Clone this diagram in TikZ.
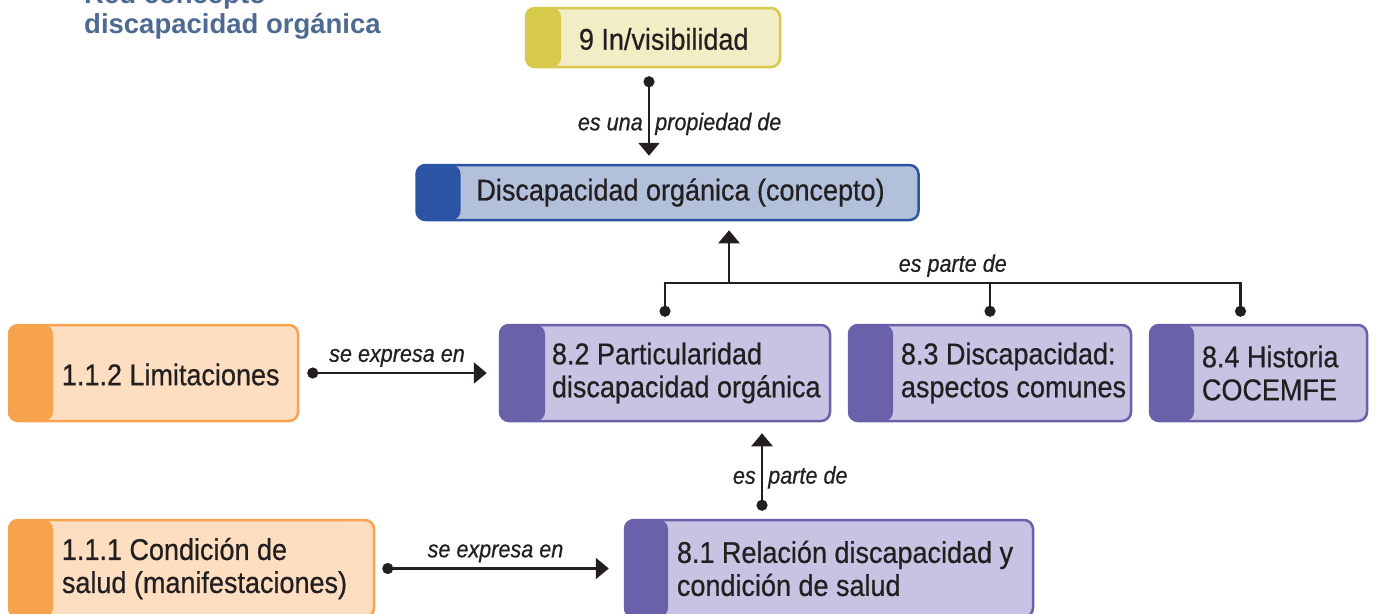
\documentclass[tikz,border=0pt]{standalone}
\usepackage{fontspec}
\setmainfont{Liberation Sans}[FakeStretch=0.9, FakeBold=0.6]
\newfontfamily\titlefont{Liberation Sans}
\usepackage{tikz}
\usetikzlibrary{arrows.meta}
\definecolor{titleblue}{HTML}{4F6A92}
\definecolor{ink}{HTML}{231F20}
\definecolor{yeltab}{HTML}{D7C94A}
\definecolor{yelfill}{HTML}{F1EDC4}
\definecolor{bluetab}{HTML}{2B55A4}
\definecolor{bluefill}{HTML}{B3C0DC}
\definecolor{purtab}{HTML}{6961AA}
\definecolor{purfill}{HTML}{C8C3E2}
\definecolor{orantab}{HTML}{F7A24D}
\definecolor{oranfill}{HTML}{FDDEC0}
\tikzstyle{conn} = [line width=2.5pt, ink, {Circle[length=11pt]}-{Triangle[width=21pt,length=13pt]}]

\begin{document}
\begin{tikzpicture}[
    x=1pt, y=-1pt,
    cbox/.style n args={3}{draw=#1, fill=#2, line width=2.5pt, rounded corners=9pt, inner sep=0pt,
        path picture={\fill[#1] (path picture bounding box.north west) rectangle ([xshift=#3]path picture bounding box.south west);}},
    ctext/.style={anchor=west, inner sep=0pt, align=left, text=ink, font=\fontsize{30}{33}\selectfont},
    lbl/.style={text=ink, inner sep=5pt, font=\fontsize{24}{26}\selectfont\itshape},
    ttl/.style={anchor=base west, inner sep=0pt, text=titleblue, font=\titlefont\bfseries\fontsize{27.5}{30}\selectfont}
  ]
  \useasboundingbox (0,0) rectangle (1375,613);
  \clip (0,0) rectangle (1375,613);

  \node[ttl] (title1) at (84,3) {Red concepto};
  \node[ttl] (title2) at (84,33) {discapacidad orgánica};

  \node[cbox={yeltab}{yelfill}{35pt}, minimum width=254pt, minimum height=59pt] (b9) at (653,37.5) {};
  \node[ctext] (t9) at ([xshift=54pt,yshift=-1.5pt]b9.west) {9 In/visibilidad};

  \node[cbox={bluetab}{bluefill}{44pt}, minimum width=502pt, minimum height=55pt] (b0) at (667.5,192.5) {};
  \node[ctext] (t0) at ([xshift=61pt]b0.west) {Discapacidad orgánica (concepto)};

  \node[cbox={orantab}{oranfill}{44pt}, minimum width=289pt, minimum height=96pt] (b112) at (153.5,373) {};
  \node[ctext] (t112) at ([xshift=54pt,yshift=-1.5pt]b112.west) {1.1.2 Limitaciones};

  \node[cbox={purtab}{purfill}{45pt}, minimum width=330pt, minimum height=96pt] (b82) at (665,373) {};
  \node[ctext] (t82) at ([xshift=53pt]b82.west) {8.2 Particularidad\\discapacidad orgánica};

  \node[cbox={purtab}{purfill}{44pt}, minimum width=282pt, minimum height=96pt] (b83) at (990,373) {};
  \node[ctext] (t83) at ([xshift=53pt]b83.west) {8.3 Discapacidad:\\aspectos comunes};

  \node[cbox={purtab}{purfill}{44pt}, minimum width=217pt, minimum height=96pt] (b84) at (1258.5,373) {};
  \node[ctext] (t84) at ([xshift=53pt]b84.west) {8.4 Historia\\COCEMFE};

  \node[cbox={orantab}{oranfill}{44pt}, minimum width=365pt, minimum height=97pt] (b111) at (191.5,568.5) {};
  \node[ctext] (t111) at ([xshift=54pt]b111.west) {1.1.1 Condición de\\salud (manifestaciones)};

  \node[cbox={purtab}{purfill}{43pt}, minimum width=408pt, minimum height=97pt] (b81) at (829,568.5) {};
  \node[ctext] (t81) at ([xshift=53pt]b81.west) {8.1 Relación discapacidad y\\condición de salud};

  \draw[conn] ([xshift=-4pt,yshift=-8pt]b9.south) -- node[pos=0.6, left, lbl] {es una} node[pos=0.6, right, lbl] {propiedad de} ([xshift=-4pt,yshift=8pt]b9.south |- b0.north);

  \coordinate (bus) at (729,283);
  \draw[conn, {Circle[length=11pt]}-{Circle[length=11pt]}] ([yshift=7pt]b82.north) |- node[pos=0.75, above, lbl] {es parte de} ([xshift=-18pt]b84.north |- bus) -- ([xshift=-18pt,yshift=7pt]b84.north);
  \draw[conn, {Circle[length=11pt]}-] ([yshift=7pt]b83.north) -- (b83.north |- bus);
  \draw[conn, -{Triangle[width=21pt,length=13pt]}] (bus) -- ([yshift=-9pt]bus |- b0.south);

  \draw[conn] ([xshift=-67pt,yshift=8pt]b81.north) -- node[pos=0.43, left, lbl] {es} node[pos=0.43, right, lbl] {parte de} ([xshift=-67pt,yshift=-11pt]b81.north |- b82.south);

  \draw[conn] ([xshift=8pt]b112.east) -- node[above, lbl] {se expresa en} ([xshift=-12pt]b82.west);
  \draw[conn] ([xshift=7pt]b111.east) -- node[above, lbl] {se expresa en} ([xshift=-15pt]b81.west);
\end{tikzpicture}
\end{document}
